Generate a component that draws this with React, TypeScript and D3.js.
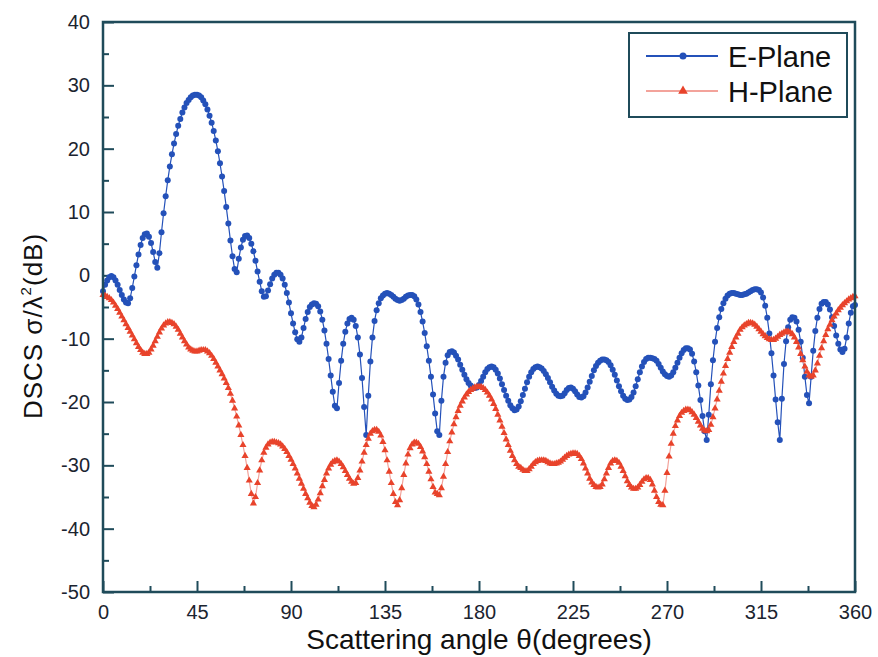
import React, { useEffect, useRef } from "react";
import * as d3 from "d3";

// scattering angle, one sample per degree (0..360)
const angles: number[] = d3.range(0, 361, 1);

// E-Plane DSCS (dB)
const ePlane: number[] = [
	-2.5, -1.5, -0.8, -0.3, -0.1, -0.3, -0.8, -1.5, -2.3, -3.1,
	-3.8, -4.3, -4.4, -3.6, -2.0, -0.2, 1.6, 3.3, 4.8, 5.9,
	6.5, 6.6, 6.1, 5.1, 3.7, 2.1, 1.2, 3.5, 6.8, 9.8,
	12.5, 15.0, 17.2, 19.1, 20.8, 22.3, 23.6, 24.7, 25.7, 26.5,
	27.2, 27.7, 28.1, 28.4, 28.5, 28.5, 28.4, 28.1, 27.6, 27.0,
	26.2, 25.2, 24.1, 22.8, 21.3, 19.6, 17.7, 15.6, 13.3, 10.8,
	8.2, 5.5, 3.0, 1.0, 0.5, 2.6, 4.4, 5.6, 6.2, 6.3,
	5.9, 5.0, 3.8, 2.3, 0.6, -1.0, -2.5, -3.4, -3.3, -2.4,
	-1.4, -0.5, 0.1, 0.4, 0.4, 0.1, -0.5, -1.5, -2.8, -4.3,
	-6.0, -7.6, -9.0, -10.1, -10.5, -9.8, -8.3, -6.9, -5.8, -5.0,
	-4.6, -4.4, -4.5, -4.9, -5.7, -7.0, -8.7, -10.8, -13.2, -15.8,
	-18.4, -20.6, -21.0, -17.0, -13.5, -10.8, -8.9, -7.6, -6.9, -6.7,
	-7.0, -8.0, -9.8, -12.5, -16.2, -20.8, -25.2, -19.0, -13.6, -9.8,
	-7.2, -5.5, -4.4, -3.6, -3.2, -2.9, -2.8, -2.9, -3.1, -3.4,
	-3.7, -3.9, -4.0, -3.9, -3.7, -3.4, -3.2, -3.1, -3.1, -3.3,
	-3.8, -4.6, -5.8, -7.3, -9.1, -11.2, -13.5, -16.0, -18.8, -21.8,
	-24.6, -25.2, -19.8, -16.0, -13.8, -12.6, -12.1, -12.0, -12.2, -12.7,
	-13.3, -14.1, -14.9, -15.7, -16.4, -17.0, -17.4, -17.7, -17.8, -17.7,
	-17.3, -16.7, -16.0, -15.3, -14.8, -14.5, -14.4, -14.5, -14.9, -15.5,
	-16.3, -17.2, -18.1, -19.0, -19.8, -20.5, -21.0, -21.3, -21.2, -20.7,
	-19.9, -18.9, -17.9, -16.9, -16.0, -15.3, -14.8, -14.5, -14.4, -14.5,
	-14.7, -15.1, -15.6, -16.2, -16.9, -17.6, -18.2, -18.7, -19.0, -19.1,
	-19.0, -18.6, -18.1, -17.8, -17.7, -17.9, -18.3, -18.8, -19.2, -19.3,
	-19.1, -18.5, -17.7, -16.8, -15.9, -15.0, -14.3, -13.8, -13.5, -13.3,
	-13.3, -13.4, -13.7, -14.2, -14.9, -15.7, -16.6, -17.5, -18.3, -19.0,
	-19.5, -19.7, -19.6, -19.2, -18.5, -17.5, -16.4, -15.3, -14.4, -13.7,
	-13.2, -13.0, -13.0, -13.1, -13.2, -13.5, -14.0, -14.6, -15.2, -15.6,
	-15.9, -16.0, -15.8, -15.3, -14.6, -13.8, -13.0, -12.3, -11.8, -11.5,
	-11.5, -11.7, -12.4, -13.6, -15.3, -17.4, -19.7, -22.2, -24.6, -26.0,
	-22.0, -17.2, -13.4, -10.5, -8.3, -6.6, -5.3, -4.4, -3.7, -3.2,
	-2.9, -2.8, -2.8, -2.9, -3.0, -3.1, -3.1, -3.0, -2.9, -2.7,
	-2.5, -2.3, -2.2, -2.2, -2.3, -2.7, -3.5, -4.8, -6.7, -9.2,
	-12.3, -15.8, -19.6, -23.2, -26.0, -19.5, -14.0, -10.4, -8.2, -7.0,
	-6.6, -6.7, -7.3, -8.6, -10.5, -13.0, -16.0, -18.9, -20.2, -16.0,
	-11.9, -8.8, -6.7, -5.3, -4.5, -4.2, -4.2, -4.6, -5.4, -6.6,
	-8.0, -9.5, -10.8, -11.7, -12.1, -11.6, -9.8, -7.6, -5.9, -4.9,
	-4.7,
];

// H-Plane DSCS (dB)
const hPlane: number[] = [
	-3.1, -3.2, -3.4, -3.6, -3.9, -4.3, -4.8, -5.3, -5.9, -6.5,
	-7.1, -7.7, -8.3, -8.9, -9.5, -10.1, -10.7, -11.3, -11.8, -12.2,
	-12.4, -12.4, -12.2, -11.7, -11.1, -10.4, -9.7, -9.0, -8.4, -7.9,
	-7.6, -7.4, -7.4, -7.5, -7.7, -8.1, -8.6, -9.2, -9.8, -10.4,
	-10.9, -11.4, -11.7, -11.9, -12.0, -12.0, -11.9, -11.8, -11.8, -11.8,
	-12.0, -12.3, -12.7, -13.2, -13.8, -14.4, -15.0, -15.6, -16.3, -17.0,
	-17.8, -18.7, -19.8, -21.0, -22.3, -23.7, -25.2, -26.8, -28.5, -30.4,
	-32.4, -34.5, -36.0, -35.0, -32.8, -30.8, -29.2, -28.0, -27.2, -26.7,
	-26.4, -26.3, -26.3, -26.4, -26.5, -26.7, -27.0, -27.4, -27.9, -28.5,
	-29.1, -29.8, -30.5, -31.3, -32.1, -32.9, -33.7, -34.5, -35.2, -35.9,
	-36.4, -36.6, -36.2, -35.4, -34.4, -33.3, -32.3, -31.3, -30.5, -29.9,
	-29.5, -29.3, -29.2, -29.4, -29.8, -30.3, -30.9, -31.5, -32.1, -32.6,
	-32.9, -32.8, -32.0, -30.8, -29.4, -28.0, -26.8, -25.8, -25.0, -24.6,
	-24.4, -24.4, -24.7, -25.3, -26.3, -27.6, -29.2, -31.0, -32.8, -34.5,
	-35.8, -36.3, -35.5, -33.6, -31.5, -29.7, -28.3, -27.3, -26.7, -26.4,
	-26.4, -26.6, -27.1, -27.8, -28.7, -29.8, -31.0, -32.2, -33.4, -34.3,
	-34.5, -34.7, -33.6, -31.8, -29.8, -27.9, -26.2, -24.8, -23.5, -22.4,
	-21.4, -20.6, -19.9, -19.3, -18.8, -18.4, -18.1, -17.9, -17.7, -17.6,
	-17.6, -17.6, -17.8, -18.1, -18.5, -19.0, -19.6, -20.3, -21.1, -22.0,
	-22.9, -23.9, -24.9, -25.9, -26.8, -27.7, -28.5, -29.2, -29.8, -30.2,
	-30.4, -30.7, -30.9, -30.9, -30.6, -30.2, -29.8, -29.5, -29.3, -29.2,
	-29.2, -29.2, -29.3, -29.5, -29.7, -29.8, -29.8, -29.7, -29.6, -29.4,
	-29.1, -28.8, -28.5, -28.3, -28.2, -28.1, -28.1, -28.2, -28.5, -29.0,
	-29.7, -30.5, -31.3, -32.1, -32.7, -33.1, -33.4, -33.5, -33.4, -33.0,
	-32.2, -31.3, -30.4, -29.7, -29.3, -29.2, -29.3, -29.6, -30.2, -30.9,
	-31.7, -32.5, -33.1, -33.5, -33.7, -33.7, -33.5, -33.1, -32.6, -32.2,
	-32.0, -32.0, -32.3, -33.0, -34.0, -35.0, -35.8, -36.2, -36.3, -34.0,
	-31.2, -28.6, -26.6, -25.0, -23.8, -22.9, -22.2, -21.7, -21.4, -21.2,
	-21.2, -21.3, -21.6, -22.0, -22.5, -23.1, -23.7, -24.2, -24.5, -24.6,
	-24.4, -23.6, -22.4, -21.0, -19.6, -18.2, -16.8, -15.5, -14.3, -13.2,
	-12.2, -11.3, -10.5, -9.8, -9.2, -8.6, -8.2, -7.9, -7.7, -7.5,
	-7.5, -7.6, -7.8, -8.1, -8.5, -8.9, -9.3, -9.6, -9.9, -10.1,
	-10.2, -10.2, -10.0, -9.7, -9.4, -9.2, -9.0, -8.9, -8.9, -9.0,
	-9.3, -9.8, -10.5, -11.4, -12.4, -13.4, -14.4, -15.2, -15.8, -16.0,
	-15.8, -15.0, -13.9, -12.7, -11.5, -10.4, -9.4, -8.5, -7.8, -7.1,
	-6.5, -6.0, -5.5, -5.1, -4.7, -4.4, -4.1, -3.8, -3.6, -3.4,
	-3.3,
];

const xTicks = [0, 45, 90, 135, 180, 225, 270, 315, 360];
const yTicks = [-50, -40, -30, -20, -10, 0, 10, 20, 30, 40];
const seriesNames = ["E-Plane", "H-Plane"];

const W = 878;
const H = 657;
const FONT = "'Liberation Sans', Arial, sans-serif";
const AXIS = "#1f4b5a";
const BLUE = "#2451b9";
const RED = "#e8432b";
const PINK = "#f3a39b";

export default function App() {
	const svgRef = useRef<SVGSVGElement | any>();

	useEffect(() => {
		const svg = d3.select(svgRef.current);
		svg.selectAll("*").remove();

		const x = d3.scaleLinear().domain([0, 360]).range([103, 855]);
		const y = d3.scaleLinear().domain([-50, 40]).range([592, 22]);

		// minor ticks
		const xMinor: any = d3
			.axisBottom(x)
			.tickValues(xTicks.slice(0, -1).map((t) => t + 22.5))
			.tickSizeInner(-6)
			.tickSizeOuter(0)
			.tickFormat(() => "");
		svg.append("g").attr("transform", "translate(0,592)").call(xMinor);

		const yMinor: any = d3
			.axisLeft(y)
			.tickValues(yTicks.slice(0, -1).map((t) => t + 5))
			.tickSizeInner(-6)
			.tickSizeOuter(0)
			.tickFormat(() => "");
		svg.append("g").attr("transform", "translate(103,0)").call(yMinor);

		// major ticks + labels
		const xAxis: any = d3
			.axisBottom(x)
			.tickValues(xTicks)
			.tickSizeInner(-11)
			.tickSizeOuter(0)
			.tickPadding(13)
			.tickFormat((d: any) => String(d));
		svg.append("g").attr("transform", "translate(0,592)").call(xAxis);

		const yAxis: any = d3
			.axisLeft(y)
			.tickValues(yTicks)
			.tickSizeInner(-11)
			.tickSizeOuter(0)
			.tickPadding(13)
			.tickFormat((d: any) => String(d));
		svg.append("g").attr("transform", "translate(103,0)").call(yAxis);

		svg.selectAll(".domain").remove();
		svg.selectAll(".tick line").attr("stroke", AXIS).attr("stroke-width", 2);
		svg
			.selectAll(".tick text")
			.attr("fill", "#1b2430")
			.style("font-family", FONT)
			.style("font-size", "20px");

		// data
		const line = d3
			.line<number>()
			.x((d, i) => x(angles[i]))
			.y((d) => y(d));

		svg
			.append("path")
			.datum(ePlane)
			.attr("d", line)
			.attr("fill", "none")
			.attr("stroke", BLUE)
			.attr("stroke-width", 1.2);
		svg
			.append("g")
			.selectAll("circle")
			.data(ePlane)
			.join("circle")
			.attr("cx", (d, i) => x(angles[i]))
			.attr("cy", (d) => y(d))
			.attr("r", 3)
			.attr("fill", BLUE);

		const tri = d3.symbol().type(d3.symbolTriangle).size(22);
		svg
			.append("path")
			.datum(hPlane)
			.attr("d", line)
			.attr("fill", "none")
			.attr("stroke", PINK)
			.attr("stroke-width", 1.2);
		svg
			.append("g")
			.selectAll("path")
			.data(hPlane)
			.join("path")
			.attr("d", tri as any)
			.attr("transform", (d, i) => `translate(${x(angles[i])},${y(d)})`)
			.attr("fill", RED);

		// frame
		svg
			.append("rect")
			.attr("x", 103)
			.attr("y", 22)
			.attr("width", 752)
			.attr("height", 570)
			.attr("fill", "none")
			.attr("stroke", AXIS)
			.attr("stroke-width", 2.5);

		// legend
		const lg = svg.append("g");
		lg.append("rect")
			.attr("x", 629)
			.attr("y", 33)
			.attr("width", 218)
			.attr("height", 84)
			.attr("fill", "white")
			.attr("stroke", AXIS)
			.attr("stroke-width", 2);
		const colors = [
			{ line: BLUE, mark: BLUE },
			{ line: PINK, mark: RED },
		];
		seriesNames.forEach((name, i) => {
			const ly = 56 + i * 35;
			lg.append("line")
				.attr("x1", 646)
				.attr("x2", 718)
				.attr("y1", ly)
				.attr("y2", ly)
				.attr("stroke", colors[i].line)
				.attr("stroke-width", 2);
			if (i === 0) {
				lg.append("circle").attr("cx", 683).attr("cy", ly).attr("r", 3.5).attr("fill", BLUE);
			} else {
				lg.append("path")
					.attr("d", d3.symbol().type(d3.symbolTriangle).size(40)() as string)
					.attr("transform", `translate(683,${ly})`)
					.attr("fill", RED);
			}
			lg.append("text")
				.attr("x", 728)
				.attr("y", ly + 11)
				.attr("fill", "#111")
				.style("font-family", FONT)
				.style("font-size", "29px")
				.text(name);
		});

		// axis titles
		svg
			.append("text")
			.attr("x", 479)
			.attr("y", 649)
			.attr("text-anchor", "middle")
			.attr("fill", "#111")
			.style("font-family", FONT)
			.style("font-size", "28px")
			.text("Scattering angle \u03b8(degrees)");

		const yt = svg
			.append("text")
			.attr("transform", "translate(42,326) rotate(-90)")
			.attr("text-anchor", "middle")
			.attr("fill", "#111")
			.style("font-family", FONT)
			.style("font-size", "26px")
			.style("letter-spacing", "1px");
		yt.append("tspan").text("DSCS \u03c3/\u03bb");
		yt.append("tspan").attr("dy", -11).style("font-size", "15px").text("2");
		yt.append("tspan").attr("dy", 11).text("(dB)");
	}, []);

	return (
		<svg
			ref={svgRef}
			width={W}
			height={H}
			style={{ position: "absolute", left: 0, top: 0, background: "white" }}
		/>
	);
}
